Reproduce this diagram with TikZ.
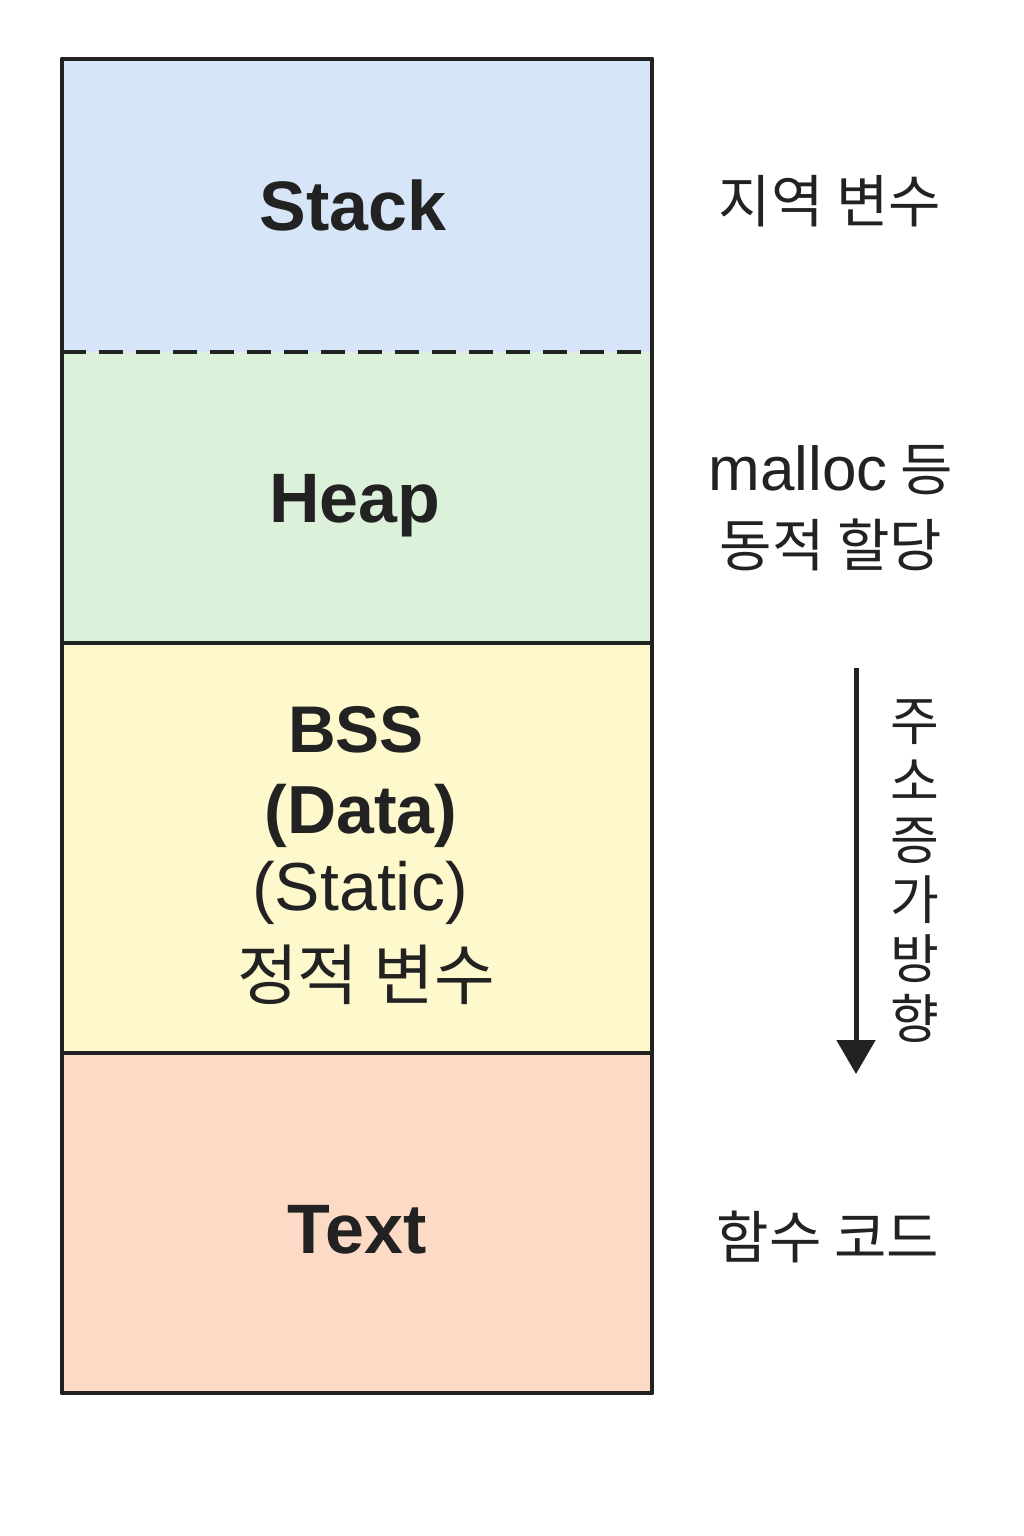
\documentclass[tikz,border=0pt]{standalone}
\usepackage{fontspec}
\setmainfont{Liberation Sans}
\newfontfamily\kr{Noto Sans CJK KR}
\usetikzlibrary{arrows.meta}

\definecolor{ink}{HTML}{222222}
\definecolor{stackfill}{HTML}{D6E6F8}
\definecolor{heapfill}{HTML}{DCF1D9}
\definecolor{bssfill}{HTML}{FEF8CD}
\definecolor{textfill}{HTML}{FDDAC6}

\tikzset{
  segment/.style={rectangle, minimum width=590pt, inner sep=0pt, draw=none},
  seglabel/.style={text=ink, font=\fontsize{70}{80}\selectfont\bfseries, anchor=base},
  sidenote/.style={text=ink, font=\kr\fontsize{57}{76}\selectfont, align=center},
  border/.style={draw=ink, line width=4.5pt},
}

\begin{document}
\begin{tikzpicture}[x=1pt,y=-1pt]
  \useasboundingbox (0,0) rectangle (1024,1536);
  \fill[white] (0,0) rectangle (1024,1536);

  % memory segments, top to bottom
  \node[segment, fill=stackfill, minimum height=293pt] (stack) at (357,205.5) {};
  \node[segment, fill=heapfill,  minimum height=291pt] (heap)  at (357,497.5) {};
  \node[segment, fill=bssfill,   minimum height=410pt] (bss)   at (357,848) {};
  \node[segment, fill=textfill,  minimum height=340pt] (text)  at (357,1223) {};

  % boundaries between segments
  \draw[ink, line width=4.5pt, dash pattern=on 24pt off 13pt] (stack.south west) -- (stack.south east);
  \draw[border] (heap.south west) -- (heap.south east);
  \draw[border] (bss.south west) -- (bss.south east);
  \draw[border, line join=round] (stack.north west) rectangle (text.south east);

  % segment names
  \node[seglabel] (stackname) at (353,230) {Stack};
  \node[seglabel] (heapname)  at (355,522) {Heap};
  \node[seglabel, font=\fontsize{66}{80}\selectfont\bfseries] (bssname) at (356,752) {BSS};
  \node[seglabel, font=\fontsize{68}{80}\selectfont\bfseries] (dataname) at (361,833) {(Data)};
  \node[seglabel, font=\fontsize{68}{80}\selectfont] (staticname) at (360,910) {(Static)};
  \node[text=ink, font=\kr\fontsize{66}{70}\selectfont] (staticvar) at (366,975) {정적 변수};
  \node[seglabel] (textname) at (357,1253) {Text};

  % notes beside the segments
  \node[sidenote] (localvar) at (830,201) {지역 변수};
  \node[sidenote] (heapnote) at (831,508) {{\rmfamily\fontsize{62}{60}\selectfont malloc} 등\\동적 할당};
  \node[sidenote] (codenote) at (828,1237) {함수 코드};

  % address direction arrow
  \coordinate (arrowtop) at (856,668);
  \coordinate (arrowtip) at (856,1074);
  \draw[ink, line width=5pt, -{Triangle[length=34pt,width=38pt]}] (arrowtop) -- (arrowtip);
  \node[text=ink, font=\kr\fontsize{53}{59.6}\selectfont, align=center] (direction) at (915,871)
    {주\\소\\증\\가\\방\\향};
\end{tikzpicture}
\end{document}
